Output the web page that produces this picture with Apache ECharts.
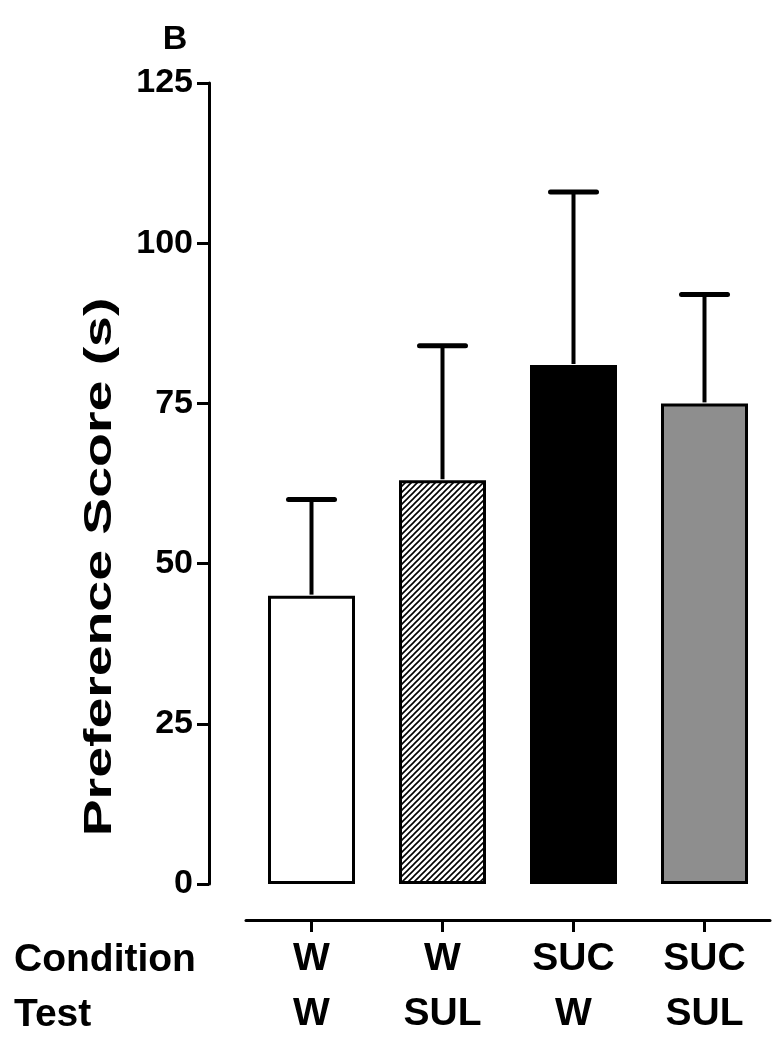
<!DOCTYPE html>
<html>
<head>
<meta charset="utf-8">
<script src="https://cdn.jsdelivr.net/npm/echarts@6/dist/echarts.min.js"></script>
<style>
  html, body { margin: 0; padding: 0; background: #fff; }
  #chart { width: 781px; height: 1050px; }
</style>
</head>
<body>
<div id="chart"></div>
<script>
// Data
const conditions = ['W', 'W', 'SUC', 'SUC'];
const tests = ['W', 'SUL', 'W', 'SUL'];
const means = [45, 63, 81, 75];
const upperErrors = [60, 84, 108, 92];

const FONT = '"Liberation Sans", Arial, sans-serif';

// Diagonal hatch for the second bar
function makeHatch() {
    const c = document.createElement('canvas');
    c.width = 6;
    c.height = 6;
    const ctx = c.getContext('2d');
    ctx.fillStyle = '#fff';
    ctx.fillRect(0, 0, 6, 6);
    ctx.strokeStyle = '#000';
    ctx.lineWidth = 1.6;
    ctx.beginPath();
    ctx.moveTo(0, 6); ctx.lineTo(6, 0);
    ctx.moveTo(-1, 1); ctx.lineTo(1, -1);
    ctx.moveTo(5, 7); ctx.lineTo(7, 5);
    ctx.stroke();
    return c;
}

const fills = ['#ffffff', { image: makeHatch(), repeat: 'repeat' }, '#000000', '#8e8e8e'];

const chart = echarts.init(document.getElementById('chart'));

const option = {
    animation: false,
    backgroundColor: '#fff',
    grid: { left: 246, right: 11, top: 83, bottom: 166 },
    xAxis: {
        type: 'category',
        data: conditions.map((c, i) => c + '\n' + tests[i]),
        offset: 36,
        axisLine: { onZero: false, lineStyle: { color: '#000', width: 3 } },
        axisTick: { show: true, alignWithLabel: true, length: 12, lineStyle: { color: '#000', width: 3 } },
        axisLabel: {
            margin: 12,
            color: '#000',
            fontFamily: FONT,
            fontWeight: 'bold',
            fontSize: 39,
            lineHeight: 55
        }
    },
    yAxis: {
        type: 'value',
        min: 0,
        max: 125,
        interval: 25,
        offset: 37,
        axisLine: { show: true, lineStyle: { color: '#000', width: 3 } },
        axisTick: { show: true, length: 12, lineStyle: { color: '#000', width: 3 } },
        splitLine: { show: false },
        axisLabel: {
            margin: 16,
            color: '#000',
            fontFamily: FONT,
            fontWeight: 'bold',
            fontSize: 34
        }
    },
    graphic: [
        {
            type: 'text', x: 175, y: 40,
            style: { text: 'B', font: 'bold 34px ' + FONT, fill: '#000', align: 'center', verticalAlign: 'middle' }
        },
        {
            type: 'text', x: 100, y: 567, rotation: Math.PI / 2, scaleX: 1.42,
            style: { text: 'Preference Score (s)', font: 'bold 39px ' + FONT, fill: '#000', align: 'center', verticalAlign: 'middle' }
        },
        {
            type: 'text', x: 14, y: 960,
            style: { text: 'Condition', font: 'bold 39px ' + FONT, fill: '#000', align: 'left', verticalAlign: 'middle' }
        },
        {
            type: 'text', x: 14, y: 1015,
            style: { text: 'Test', font: 'bold 39px ' + FONT, fill: '#000', align: 'left', verticalAlign: 'middle' }
        }
    ],
    series: [
        {
            type: 'bar',
            barWidth: 87,
            data: means.map((v, i) => ({
                value: v,
                itemStyle: { color: fills[i], borderColor: '#000', borderWidth: 3 }
            })),
            z: 2
        },
        {
            type: 'custom',
            data: means.map((v, i) => [i, v, upperErrors[i]]),
            renderItem: function (params, api) {
                const base = api.coord([api.value(0), api.value(1)]);
                const top = api.coord([api.value(0), api.value(2)]);
                const half = 23;
                return {
                    type: 'group',
                    children: [
                        {
                            type: 'line',
                            shape: { x1: base[0], y1: base[1] - 1, x2: top[0], y2: top[1] },
                            style: { stroke: '#000', lineWidth: 4 }
                        },
                        {
                            type: 'line',
                            shape: { x1: top[0] - half, y1: top[1], x2: top[0] + half, y2: top[1] },
                            style: { stroke: '#000', lineWidth: 5, lineCap: 'round' }
                        }
                    ]
                };
            },
            z: 1
        }
    ]
};

chart.setOption(option);
</script>
</body>
</html>
